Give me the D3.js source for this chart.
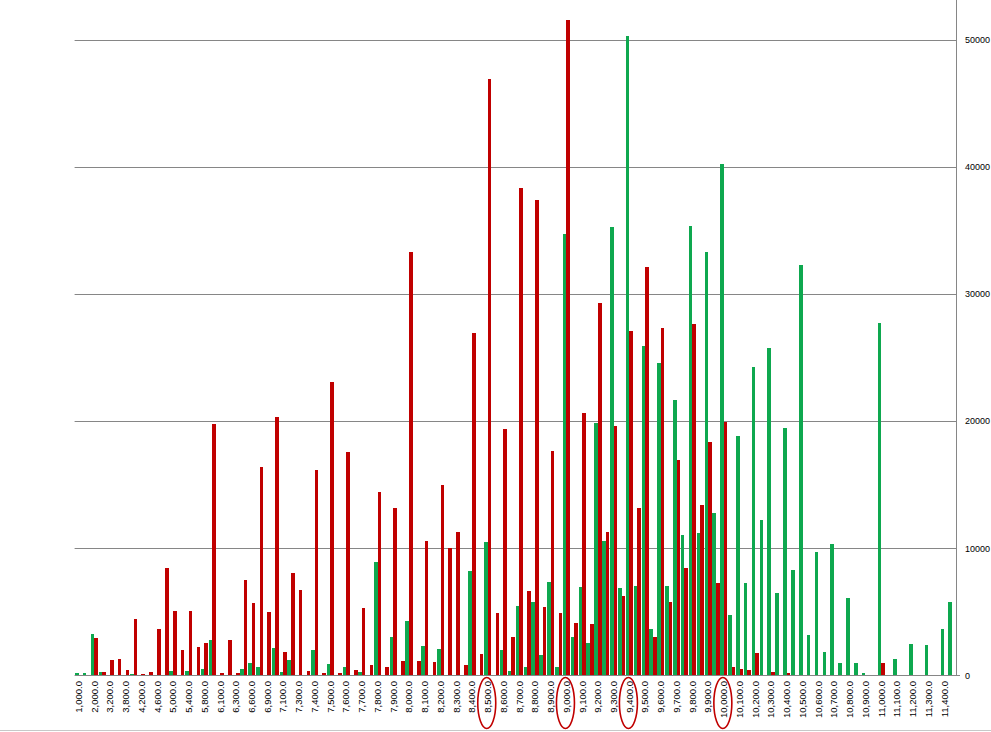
<!DOCTYPE html>
<html>
<head>
<meta charset="utf-8">
<script src="https://cdn.jsdelivr.net/npm/d3@7"></script>
<style>
  html, body { margin: 0; padding: 0; background: #ffffff; }
  svg { display: block; }
</style>
</head>
<body>
<div id="chart"></div>
<script>
// ---- data ----
const categories = [
  1000, 1500, 2000, 2800, 3200, 3500, 3800, 4000, 4200, 4400,
  4600, 4800, 5000, 5200, 5400, 5600, 5800, 6000, 6100, 6200,
  6300, 6500, 6600, 6800, 6900, 7000, 7100, 7200, 7300, 7350,
  7400, 7450, 7500, 7550, 7600, 7650, 7700, 7750, 7800, 7850,
  7900, 7950, 8000, 8050, 8100, 8150, 8200, 8250, 8300, 8350,
  8400, 8450, 8500, 8550, 8600, 8650, 8700, 8750, 8800, 8850,
  8900, 8950, 9000, 9050, 9100, 9150, 9200, 9250, 9300, 9350,
  9400, 9450, 9500, 9550, 9600, 9650, 9700, 9750, 9800, 9850,
  9900, 9950, 10000, 10050, 10100, 10150, 10200, 10250, 10300, 10350,
  10400, 10450, 10500, 10550, 10600, 10650, 10700, 10750, 10800, 10850,
  10900, 10950, 11000, 11050, 11100, 11150, 11200, 11250, 11300, 11350,
  11400, 11450
];

const greenValues = [
  200, 200, 3260, 280, 0, 0, 0, 100, 0, 0,
  0, 0, 330, 0, 330, 0, 510, 2790, 0, 0,
  0, 510, 980, 670, 0, 2200, 300, 1220, 0, 0,
  2000, 0, 900, 0, 670, 0, 270, 0, 8920, 0,
  3050, 0, 4290, 0, 2320, 0, 2080, 0, 0, 0,
  8220, 0, 10520, 0, 2000, 350, 5470, 670, 5780, 1610,
  7350, 670, 34700, 3030, 6960, 2550, 19850, 10600, 35260, 6880,
  50350, 7040, 25900, 3660, 24570, 7040, 21660, 11050, 35340, 11230,
  33290, 12800, 40250, 4760, 18830, 7300, 24260, 12230, 25800, 6490,
  19500, 8290, 32300, 3180, 9710, 1850, 10340, 980, 6090, 980,
  200, 0, 27710, 0, 1300, 0, 2480, 0, 2400, 0,
  3660, 5780
];

const redValues = [
  0, 0, 2950, 280, 1220, 1300, 430, 4440, 120, 280,
  3660, 8450, 5070, 2000, 5070, 2270, 2550, 19770, 200, 2790,
  200, 7510, 5700, 16400, 4990, 20300, 1850, 8080, 6720, 350,
  16150, 200, 23100, 200, 17560, 430, 5300, 820, 14400, 670,
  13150, 1140, 33300, 1140, 10570, 1050, 14970, 10020, 11300, 820,
  26950, 1690, 46900, 4940, 19400, 3030, 38330, 6670, 37380, 5390,
  17650, 4910, 51550, 4130, 20640, 4050, 29290, 11310, 19600, 6250,
  27090, 13170, 32110, 3030, 27320, 5780, 16940, 8450, 27630, 13400,
  18360, 7300, 19930, 670, 510, 430, 1770, 0, 280, 0,
  200, 0, 0, 0, 0, 0, 0, 0, 0, 0,
  0, 0, 980, 0, 0, 0, 0, 0, 0, 0,
  0, 0
];

const yTickValues = [0, 10000, 20000, 30000, 40000, 50000];
const highlighted = [8500, 9000, 9400, 10000];
const seriesNames = ["green", "red"];

// ---- drawing ----
const W = 991, H = 732;
const left = 74.6, right = 956, zeroY = 675.5, topY = 40;

const svg = d3.select("#chart").append("svg")
  .attr("width", W).attr("height", H)
  .style("font-family", "'Liberation Sans', Arial, sans-serif");

svg.append("rect").attr("width", W).attr("height", H).attr("fill", "#ffffff");

const x = d3.scaleBand().domain(categories).range([left, right])
  .paddingInner(0.085).paddingOuter(0.0425);
const xs = d3.scaleBand().domain(seriesNames).range([0, x.bandwidth()]);
const y = d3.scaleLinear().domain([0, 50000]).range([zeroY, topY]);

const colors = { green: "#0ea84f", red: "#c00000" };

// gridlines
svg.append("g").selectAll("line").data(yTickValues.filter(d => d > 0)).join("line")
  .attr("x1", left).attr("x2", right)
  .attr("y1", d => Math.round(y(d)) + 0.5).attr("y2", d => Math.round(y(d)) + 0.5)
  .attr("stroke", "#868686").attr("stroke-width", 1);

// bars
const rows = categories.map((c, i) => ({ c, green: greenValues[i], red: redValues[i] }));
const groups = svg.append("g").selectAll("g").data(rows).join("g")
  .attr("transform", d => `translate(${x(d.c)},0)`);
groups.selectAll("rect").data(d => seriesNames.map(k => ({ k, v: d[k] })).filter(e => e.v > 0)).join("rect")
  .attr("x", d => xs(d.k))
  .attr("width", xs.bandwidth())
  .attr("y", d => y(d.v))
  .attr("height", d => zeroY - y(d.v))
  .attr("fill", d => colors[d.k])
  .attr("shape-rendering", "crispEdges");

// x axis line (baseline)
svg.append("line").attr("x1", left).attr("x2", right + 4)
  .attr("y1", 675.5).attr("y2", 675.5)
  .attr("stroke", "#868686").attr("stroke-width", 1);

// right axis line
svg.append("line").attr("x1", 956.5).attr("x2", 956.5)
  .attr("y1", 0).attr("y2", 675.5)
  .attr("stroke", "#868686").attr("stroke-width", 1);

// y tick labels (right)
svg.append("g").selectAll("text").data(yTickValues).join("text")
  .attr("x", 965).attr("y", d => y(d))
  .attr("dy", "0.35em")
  .attr("font-size", 9)
  .attr("fill", "#000")
  .text(d => d3.format("d")(d));

// x tick labels (every other category)
const fmt = d3.format(",.1f");
const labelCats = categories.filter((d, i) => i % 2 === 0);
svg.append("g").selectAll("text").data(labelCats).join("text")
  .attr("transform", d => `translate(${x(d) + x.bandwidth() / 2},681) rotate(-90)`)
  .attr("text-anchor", "end")
  .attr("dy", "0.35em")
  .attr("font-size", 9.5)
  .attr("fill", "#000")
  .text(d => fmt(d));

// highlight ellipses
svg.append("g").selectAll("ellipse").data(highlighted).join("ellipse")
  .attr("cx", d => x(d) + x.bandwidth() / 2 - 1)
  .attr("cy", 703)
  .attr("rx", 9).attr("ry", 25.5)
  .attr("fill", "none")
  .attr("stroke", "#c00000").attr("stroke-width", 1.6);

// bottom sheet line
svg.append("line").attr("x1", 0).attr("x2", W)
  .attr("y1", 730.5).attr("y2", 730.5)
  .attr("stroke", "#c8c8c8").attr("stroke-width", 1);
</script>
</body>
</html>
